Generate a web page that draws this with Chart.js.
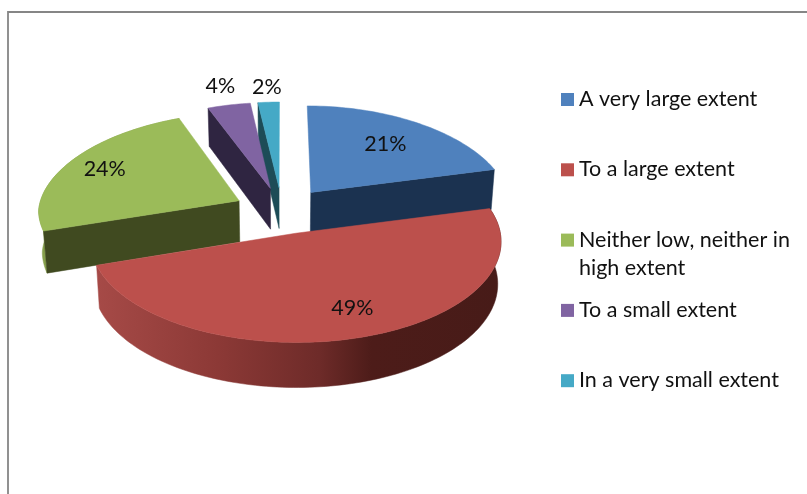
<!DOCTYPE html>
<html lang="en">
<head>
    <meta charset="UTF-8">
    <title>Extent pie</title>
    <script src="https://cdn.jsdelivr.net/npm/chart.js"></script>
    <style>
        html, body { margin: 0; padding: 0; background: #fff; overflow: hidden; }
        canvas { display: block; }
    </style>
</head>
<body>
    <canvas id="myChart" width="807" height="494"></canvas>

    <script>
        const categories = [
            'A very large extent',
            'To a large extent',
            ['Neither low, neither in', 'high extent'],
            'To a small extent',
            'In a very small extent'
        ];
        const shares = [21, 49, 24, 4, 2];

        const faceColors = ['#4f81bd', '#bc504c', '#9bbb59', '#8064a2', '#45a9c6'];
        const wallColors = ['#1b3250', '#5a2220', '#404a20', '#2f2541', '#1d4c57'];
        const rimColors = ['#1b3250', '#5a2220', '#86a04c', '#2f2541', '#1d4c57'];
        // where each percentage sits, as a fraction of the radius from the slice tip
        const labelRadius = [0.68, 0.75, 0.79, 1.25, 1.2];
        const labelTurn = [0, -4, 0, 0, 0];

        const FONT = '21.5px Lato, "Open Sans", sans-serif';
        const TILT = 0.485;      // flattening of the pie
        const PERSP_BACK = 0.12; // horizontal perspective, in radius units
        const PERSP_FRONT = 0.08;
        const PERSP_Y = 0.082;
        const DEPTH = 41.5;
        const drawOrder = [4, 3, 2, 0, 1];

        function project(arc, angle, radiusFrac) {
            const R = arc.outerRadius;
            const off = arc.offset;
            const mid = (arc.startAngle + arc.endAngle) / 2;
            const U = radiusFrac * R * Math.cos(angle) + off * Math.cos(mid);
            const V = radiusFrac * R * Math.sin(angle) + off * Math.sin(mid);
            const v = V / R;
            return {
                x: arc.x + U * (1 + (v < 0 ? PERSP_BACK : PERSP_FRONT) * v),
                y: arc.y + V * TILT * (1 + PERSP_Y * v),
                v: v,
                cx: arc.x
            };
        }

        // same point on the bottom of the pie
        function lower(p) {
            return {
                x: p.cx + (p.x - p.cx) * 0.985,
                y: p.y + DEPTH * (1 + 0.07 * p.v)
            };
        }

        function fillPath(ctx, pts, fill) {
            ctx.beginPath();
            pts.forEach((p, i) => i ? ctx.lineTo(p.x, p.y) : ctx.moveTo(p.x, p.y));
            ctx.closePath();
            ctx.fillStyle = fill;
            ctx.strokeStyle = fill;
            ctx.lineWidth = 0.5;
            ctx.fill();
            ctx.stroke();
        }

        function rimFill(ctx, i, rim) {
            if (i !== 1) return rimColors[i];
            // the big slice darkens from left to right
            const xs = rim.map(p => p.x);
            const g = ctx.createLinearGradient(Math.min(...xs), 0, Math.max(...xs), 0);
            g.addColorStop(0, '#a64a47');
            g.addColorStop(0.3, '#8c3936');
            g.addColorStop(0.55, '#6e2b29');
            g.addColorStop(0.68, '#4d1c19');
            g.addColorStop(1, '#471b18');
            return g;
        }

        const pie3d = {
            id: 'pie3d',
            beforeDatasetsDraw(chart) {
                const ctx = chart.ctx;
                const elements = chart.getDatasetMeta(0).data;
                const arcs = elements.map(el => Object.assign(
                    el.getProps(['x', 'y', 'startAngle', 'endAngle', 'outerRadius'], true),
                    { offset: el.options.offset }
                ));

                ctx.save();
                drawOrder.forEach(i => {
                    const arc = arcs[i];
                    const tip = project(arc, arc.startAngle, 0);
                    const rim = [];
                    const steps = Math.ceil((arc.endAngle - arc.startAngle) * 40);
                    for (let s = 0; s <= steps; s++) {
                        const a = arc.startAngle + (arc.endAngle - arc.startAngle) * s / steps;
                        rim.push(project(arc, a, 1));
                    }
                    const first = rim[0];
                    const last = rim[rim.length - 1];

                    // outer rim is only seen on slices reaching the front or far left
                    if (arc.startAngle < Math.PI && arc.endAngle > 0) {
                        fillPath(ctx, rim.concat(rim.map(lower).reverse()), rimFill(ctx, i, rim));
                    }
                    // a cut side only shows when it faces the viewer
                    if (Math.cos(arc.endAngle) > 0.01) {
                        fillPath(ctx, [tip, last, lower(last), lower(tip)], wallColors[i]);
                    }
                    if (Math.cos(arc.startAngle) < -0.01) {
                        fillPath(ctx, [tip, first, lower(first), lower(tip)], wallColors[i]);
                    }
                    fillPath(ctx, [tip].concat(rim), faceColors[i]);
                });

                ctx.font = FONT;
                ctx.fillStyle = '#111';
                ctx.textAlign = 'center';
                ctx.textBaseline = 'middle';
                arcs.forEach((arc, i) => {
                    const mid = (arc.startAngle + arc.endAngle) / 2 + labelTurn[i] * Math.PI / 180;
                    const p = project(arc, mid, labelRadius[i]);
                    ctx.fillText(shares[i] + '%', p.x, p.y);
                });
                ctx.restore();
                return false; // slices are painted above
            }
        };

        const sideLegend = {
            id: 'sideLegend',
            afterDraw(chart) {
                const ctx = chart.ctx;
                ctx.save();
                ctx.font = FONT;
                ctx.textAlign = 'left';
                ctx.textBaseline = 'middle';
                chart.data.labels.forEach((label, i) => {
                    const y = 99 + i * 70.3;
                    ctx.fillStyle = faceColors[i];
                    ctx.fillRect(561, y - 6, 13, 13);
                    ctx.fillStyle = '#111';
                    [].concat(label).forEach((line, n) => ctx.fillText(line, 579, y + n * 28));
                });
                ctx.restore();
            }
        };

        const frame = {
            id: 'frame',
            beforeDraw(chart) {
                const ctx = chart.ctx;
                ctx.save();
                ctx.strokeStyle = '#868686';
                ctx.lineWidth = 1.8;
                ctx.beginPath();
                ctx.moveTo(8, 494);
                ctx.lineTo(8, 12);
                ctx.lineTo(807, 12);
                ctx.stroke();
                ctx.restore();
            }
        };

        new Chart(document.getElementById('myChart'), {
            type: 'pie',
            data: {
                labels: categories,
                datasets: [{
                    data: shares,
                    backgroundColor: faceColors,
                    borderWidth: 0,
                    offset: 48
                }]
            },
            options: {
                responsive: false,
                animation: false,
                radius: 201,
                layout: { padding: { right: 243, bottom: 73 } },
                plugins: {
                    legend: { display: false },
                    tooltip: { enabled: false }
                }
            },
            plugins: [frame, pie3d, sideLegend]
        });
    </script>
</body>
</html>
